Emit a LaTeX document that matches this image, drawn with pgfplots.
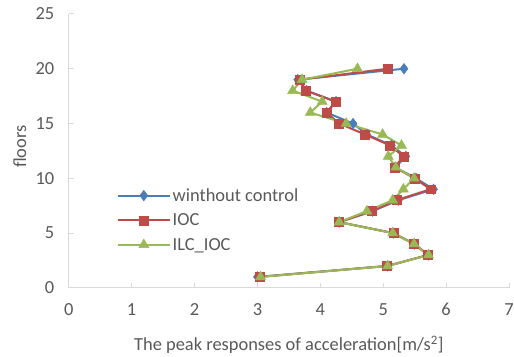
\documentclass[border=0pt]{standalone}
\usepackage{fontspec}
\setmainfont{Carlito}
\usepackage{pgfplots}
\pgfplotsset{compat=1.18}
\definecolor{sBlue}{HTML}{4A7EBB}
\definecolor{sRed}{HTML}{BE4B48}
\definecolor{sGreen}{HTML}{98B954}
\definecolor{axgray}{HTML}{D9D9D9}
\definecolor{txt}{HTML}{595959}
\begin{document}
\begin{tikzpicture}
\path[use as bounding box] (-69pt,-69pt) rectangle (447pt,289pt);
\begin{axis}[
  at={(0,0)}, anchor=south west,
  scale only axis, width=442pt, height=275pt,
  xmin=0, xmax=7, ymin=0, ymax=25,
  axis x line=bottom, axis y line=left,
  axis line style={axgray, line width=0.9pt, -},
  xtick={0,1,...,7}, ytick={0,5,...,25},
  tick align=inside, major tick length=5pt,
  tick style={axgray, line width=0.9pt},
  /pgf/number format/assume math mode=true,
  ticklabel style={font=\fontsize{18.5}{22}\selectfont, text=txt},
  xticklabel style={yshift=-12pt},
  yticklabel style={xshift=-11pt},
  xlabel={The peak responses of acceleration[m/s\textsuperscript{2}]},
  ylabel={floors},
  label style={font=\fontsize{18.5}{22}\selectfont, text=txt},
  xlabel style={at={(axis description cs:0.5,0)}, anchor=base, yshift=-63pt},
  ylabel style={at={(axis description cs:-0.111,0.516)}, anchor=center, rotate=0},
  legend style={at={(axis description cs:0.109,0.371)}, anchor=north west, draw=none, fill=none,
    font=\fontsize{18.5}{22}\selectfont, text=txt, row sep=7pt, inner sep=0pt},
  legend cell align=left,
  legend image code/.code={\draw[mark repeat=2, mark phase=2, #1] plot coordinates {(0pt,0pt) (26pt,0pt) (52pt,0pt)};},
]
\addplot[sBlue, line width=2pt, mark=diamond*, mark size=5.3pt, mark options={solid, line width=0.5pt}] coordinates {
(3.00,1) (5.07,2) (5.72,3) (5.50,4) (5.16,5) (4.30,6) (4.83,7) (5.24,8) (5.80,9) (5.52,10)
(5.19,11) (5.36,12) (5.13,13) (4.74,14) (4.52,15) (4.10,16) (4.25,17) (3.78,18) (3.64,19) (5.33,20)};
\addlegendentry{winthout control}
\addplot[sRed, line width=2pt, mark=square*, mark size=4.5pt, mark options={solid, line width=0.5pt}] coordinates {
(3.03,1) (5.06,2) (5.71,3) (5.49,4) (5.16,5) (4.30,6) (4.82,7) (5.21,8) (5.75,9) (5.50,10)
(5.18,11) (5.32,12) (5.11,13) (4.71,14) (4.30,15) (4.10,16) (4.24,17) (3.77,18) (3.68,19) (5.07,20)};
\addlegendentry{IOC}
\addplot[sGreen, line width=2pt, mark=triangle*, mark size=5.8pt, mark options={solid, line width=0.5pt}] coordinates {
(3.05,1) (5.07,2) (5.72,3) (5.49,4) (5.15,5) (4.30,6) (4.74,7) (5.15,8) (5.32,9) (5.49,10)
(5.20,11) (5.08,12) (5.29,13) (4.99,14) (4.41,15) (3.84,16) (4.03,17) (3.56,18) (3.71,19) (4.59,20)};
\addlegendentry{ILC\_IOC}
\end{axis}
\end{tikzpicture}
\end{document}
